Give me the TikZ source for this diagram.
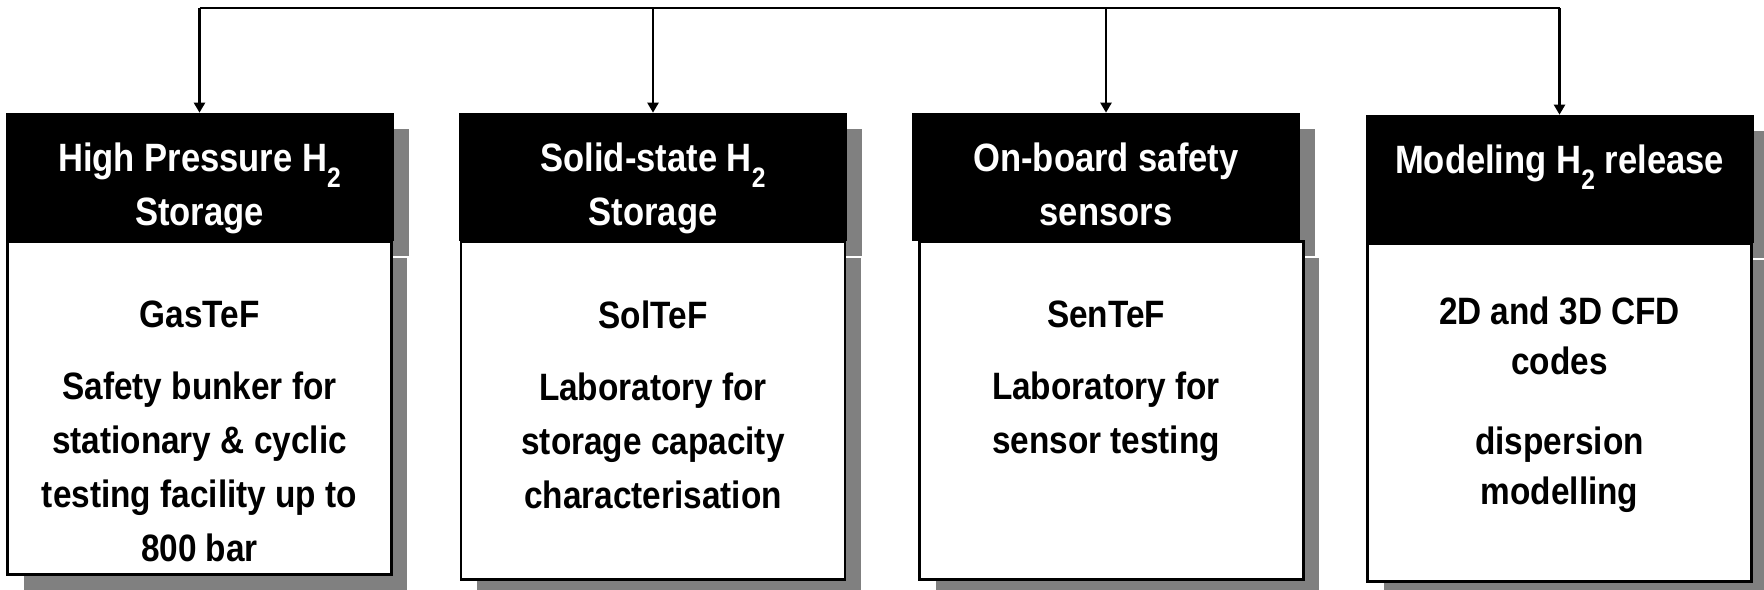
\documentclass[tikz,border=0pt]{standalone}
\usepackage{fontspec}
\setmainfont{Liberation Sans}[FakeStretch=0.875]
\usepackage{xcolor}
\usetikzlibrary{positioning,shadows,arrows.meta}

\definecolor{shadowgray}{RGB}{128,128,128}
\newcommand{\hsub}[1]{\raisebox{-9pt}{\fontsize{16}{16}\selectfont #1}}

\tikzset{
	boxshadow/.style={drop shadow={shadow xshift=0.32cm, shadow yshift=-0.32cm, fill=shadowgray, opacity=1}},
	headbox/.style={draw=black, fill=black, minimum width=7.74cm, minimum height=2.54cm, inner sep=0pt, boxshadow},
	bodybox/.style={draw=black, line width=1.4pt, fill=white, minimum width=7.68cm, minimum height=6.76cm, inner sep=0pt, boxshadow},
	headtext/.style={text=white, align=center, inner sep=0pt, anchor=north, font=\fontsize{22.5}{30.7}\selectfont\bfseries},
	bodytext/.style={align=center, inner sep=0pt, anchor=north, font=\fontsize{21.7}{30.7}\selectfont\bfseries},
	link/.style={line width=1.3pt},
}

\begin{document}
\begin{tikzpicture}[x=0.02cm, y=-0.02cm]
		\useasboundingbox (0,0) rectangle (1764,589);
		% boxes
		\node [headbox] (hd1) at (199.5,176.5) {};
		\node [bodybox, below=0pt of hd1, minimum height=6.66cm] (bd1) {};
		\node [headbox] (hd2) at (653,176.5) {};
		\node [bodybox, below=0pt of hd2] (bd2) {};
		\node [headbox] (hd3) at (1106,176.5) {};
		\node [bodybox, below=0pt of hd3, xshift=0.11cm] (bd3) {};
		\node [headbox] (hd4) at (1559.5,178.5) {};
		\node [bodybox, below=0pt of hd4] (bd4) {};
		% titles
		\node [headtext] (ht1) at ([yshift=-0.60cm]hd1.north) {High Pressure H\hsub{2}\\Storage};
		\node [headtext] (ht2) at ([yshift=-0.60cm]hd2.north) {Solid-state H\hsub{2}\\Storage};
		\node [headtext] (ht3) at ([yshift=-0.60cm]hd3.north) {On-board safety\\sensors};
		\node [headtext] (ht4) at ([yshift=-0.60cm]hd4.north) {Modeling H\hsub{2} release};
		% contents
		\node [bodytext] (bt1) at ([yshift=-1.20cm]bd1.north) {GasTeF\\[0.36cm]Safety bunker for\\stationary \& cyclic\\testing facility up to\\800 bar};
		\node [bodytext] (bt2) at ([yshift=-1.20cm]bd2.north) {SolTeF\\[0.36cm]Laboratory for\\storage capacity\\characterisation};
		\node [bodytext] (bt3) at ([yshift=-1.20cm,xshift=-0.11cm]bd3.north) {SenTeF\\[0.36cm]Laboratory for\\sensor testing};
		\node [bodytext, font=\fontsize{21.7}{28.5}\selectfont\bfseries] (bt4) at ([yshift=-1.08cm]bd4.north) {2D and 3D CFD\\codes\\[0.6cm]dispersion\\modelling};
		% links
		\coordinate (bus) at (0,8);
		\draw [link] (hd1.north |- bus) -- (hd4.north |- bus);
		\draw [link, -{Triangle[width=0.22cm,length=0.2cm]}] (hd1.north |- bus) -- (hd1.north);
		\draw [link, -{Triangle[width=0.22cm,length=0.2cm]}] (hd2.north |- bus) -- (hd2.north);
		\draw [link, -{Triangle[width=0.22cm,length=0.2cm]}] (hd3.north |- bus) -- (hd3.north);
		\draw [link, -{Triangle[width=0.22cm,length=0.2cm]}] (hd4.north |- bus) -- (hd4.north);
	\end{tikzpicture}
\end{document}
